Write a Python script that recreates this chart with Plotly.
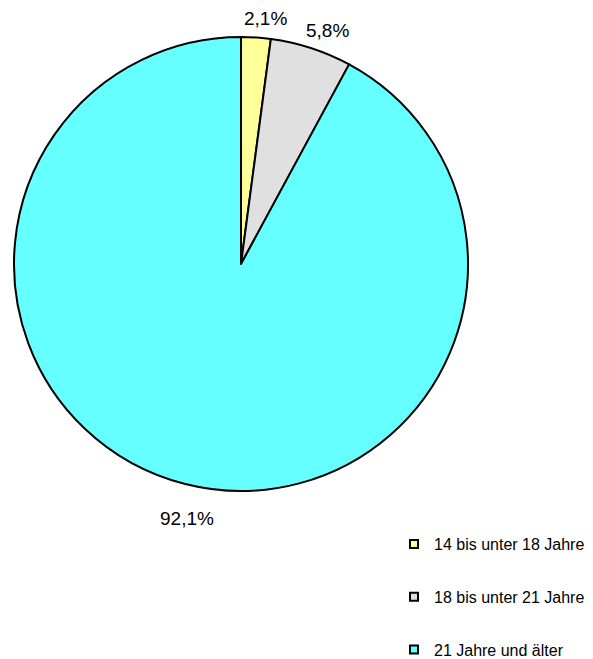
import math
import plotly.graph_objects as go

labels = ["14 bis unter 18 Jahre", "18 bis unter 21 Jahre", "21 Jahre und älter"]
values = [2.1, 5.8, 92.1]
colors = ["#FFFF99", "#E0E0E0", "#66FFFF"]

W, H = 593, 659
OFF = 8  # default page margin of the HTML body
cx, cy, r = 241 - OFF, 264 - OFF, 227
label_size = 19

fig = go.Figure()
fig.add_trace(go.Pie(
    labels=labels, values=values, sort=False, direction="clockwise", rotation=0,
    marker=dict(colors=colors, line=dict(color="black", width=2)),
    textinfo="none", hoverinfo="label+percent",
    showlegend=False,
    domain=dict(x=[(cx - r) / W, (cx + r) / W], y=[1 - (cy + r) / H, 1 - (cy - r) / H]),
))

# percentage labels outside the pie, on a ring around the slice mid-angles
total = sum(values)
lcx, lcy, lr = cx + OFF, cy + OFF, r + 27
cum = 0.0
for v in values:
    mid = (cum + v / 2) / total * 2 * math.pi
    cum += v
    txt = f"{v / total * 100:.1f}%".replace(".", ",")
    px, py = lcx + lr * math.sin(mid), lcy - lr * math.cos(mid)
    fig.add_annotation(
        x=px / W, y=1 - py / H, xref="paper", yref="paper",
        text=txt, showarrow=False, xanchor="center", yanchor="middle",
        font=dict(family="Liberation Sans, Arial", size=label_size, color="black"),
    )

for lab, col in zip(labels, colors):
    fig.add_trace(go.Scatter(
        x=[None], y=[None], mode="markers", name=lab, legendgroup=lab,
        marker=dict(symbol="square", size=8, color=col, line=dict(color="black", width=2)),
    ))

fig.update_layout(
    width=W, height=H, margin=dict(l=0, r=0, t=0, b=0),
    paper_bgcolor="white", plot_bgcolor="white",
    separators=",.",
    xaxis=dict(visible=False), yaxis=dict(visible=False),
    legend=dict(x=386 / W, y=1 - 519 / H, xanchor="left", yanchor="top", tracegroupgap=29,
                font=dict(family="Liberation Sans, Arial", size=16, color="black"),
                itemwidth=30, bgcolor="rgba(0,0,0,0)"),
    font=dict(family="Liberation Sans, Arial"),
)
fig.write_html("out.html")
